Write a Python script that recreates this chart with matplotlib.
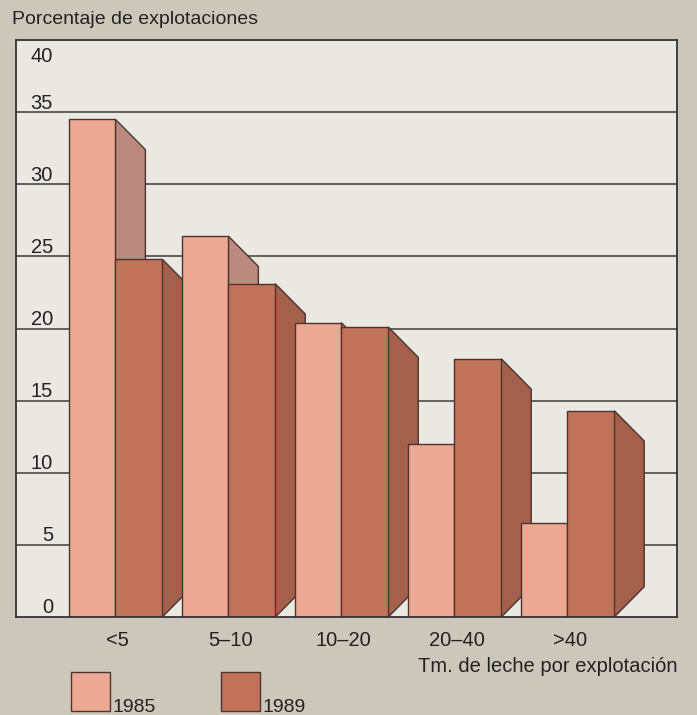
import matplotlib.pyplot as plt
import numpy as np

# data
categories = ["<5", "5–10", "10–20", "20–40", ">40"]
pct_1985 = [34.5, 26.4, 20.4, 12.0, 6.5]
pct_1989 = [24.8, 23.1, 20.1, 17.9, 14.3]
yticks = [0, 5, 10, 15, 20, 25, 30, 35, 40]

BG = "#cdc6bb"
PLOT_BG = "#e9e8e3"
FRONT_85 = "#eba892"
SIDE_85 = "#b98a7d"
FRONT_89 = "#c1735a"
SIDE_89 = "#a5604c"
EDGE = "#4a3530"
TXT = "#222222"

plt.rcParams["font.family"] = ["Liberation Sans", "DejaVu Sans"]

W, H = 697, 715
fig = plt.figure(figsize=(W / 100, H / 100), dpi=100, facecolor=BG)
# plot box in pixels: x 16..677, y 40..617
ax = fig.add_axes([16 / W, (H - 617) / H, (677 - 16) / W, (617 - 40) / H])
ax.set_facecolor(PLOT_BG)

x = np.arange(len(categories))
width = 0.415
dx = 0.265   # depth of the side face, data units
dy = 2.1
x0, x1 = -0.88, 4.97

ax.set_xlim(x0, x1)
ax.set_ylim(0, 40)

for v in yticks[1:-1]:
    ax.axhline(v, color="#4a4a4a", lw=1.2, zorder=1)


def box(left, value, front, side, z):
    ax.bar(left, value, width, align="edge", color=front, edgecolor=EDGE,
           linewidth=1.0, zorder=z + 1)
    r = left + width
    ax.fill([r, r + dx, r + dx, r], [value, value - dy, dy, 0],
            color=side, edgecolor=EDGE, linewidth=1.0, zorder=z)


z = 2
for i in range(len(categories)):
    box(x[i] - width, pct_1985[i], FRONT_85, SIDE_85, z)
    box(x[i], pct_1989[i], FRONT_89, SIDE_89, z + 2)
    z += 4

for s in ax.spines.values():
    s.set_color("#333333")
    s.set_linewidth(1.3)
    s.set_zorder(100)
ax.set_xticks([])
ax.set_yticks([])

tr = ax.get_yaxis_transform()
for v in yticks:
    if v == 40:
        ax.text(0.056, 39.5, str(v), transform=tr, ha="right", va="top",
                fontsize=14.5, color=TXT, zorder=50)
    else:
        ax.text(0.056, v + 0.25, str(v), transform=tr, ha="right",
                va="baseline", fontsize=14.5, color=TXT, zorder=50)

for i, c in enumerate(categories):
    ax.text(x[i] + 0.02, -1.6, c, ha="center", va="center", fontsize=14.5,
            color=TXT, clip_on=False)

fig.text(12 / W, 1 - 20 / H, "Porcentaje de explotaciones", ha="left",
         va="center", fontsize=14, color=TXT)
fig.text(678 / W, 1 - 672 / H, "Tm. de leche por explotación", ha="right",
         va="baseline", fontsize=14.5, color=TXT)

# legend swatches
for left, col, lab in [(71, FRONT_85, "1985"), (221, FRONT_89, "1989")]:
    fig.patches.append(plt.Rectangle((left / W, 1 - 711 / H), 39 / W, 39 / H,
                                     transform=fig.transFigure, facecolor=col,
                                     edgecolor=EDGE, linewidth=1.0))
    fig.text((left + 42) / W, 1 - 712 / H, lab, ha="left", va="baseline",
             fontsize=14, color=TXT)

fig.savefig("out.png", dpi=100, facecolor=BG)
